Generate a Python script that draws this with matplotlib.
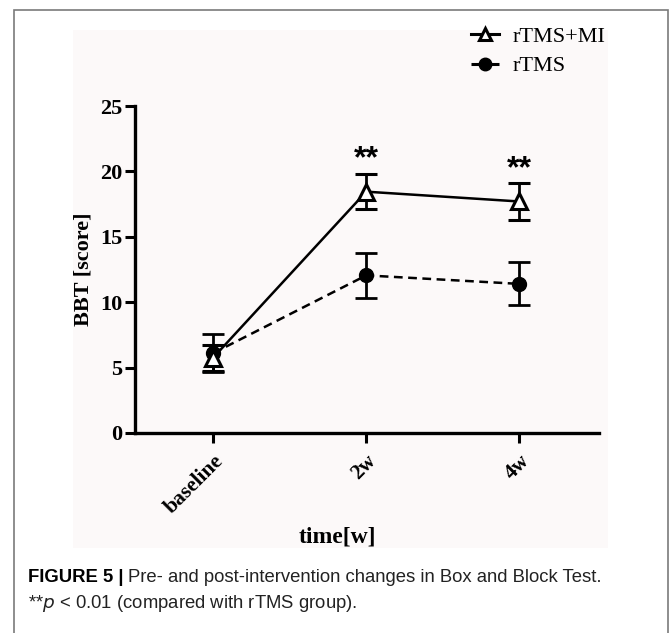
import matplotlib.pyplot as plt
from matplotlib.patches import Rectangle
from matplotlib.lines import Line2D

# data
timepoints = ["baseline", "2w", "4w"]
mi_mean = [5.75, 18.45, 17.7]
mi_err = [1.0, 1.35, 1.4]
rtms_mean = [6.1, 12.05, 11.4]
rtms_err = [1.45, 1.7, 1.65]
sig_labels = ["", "**", "**"]

W, H = 670, 633
fig = plt.figure(figsize=(W / 100, H / 100), dpi=100)
fig.patch.set_facecolor("white")

# panel background and outer frame
fig.patches.append(Rectangle((73 / W, 1 - 548 / H), (608 - 73) / W, (548 - 30) / H,
                             transform=fig.transFigure, facecolor="#fcf9f9",
                             edgecolor="none", zorder=-2))
fig.patches.append(Rectangle((14 / W, -0.01), (668 - 14) / W, 1 - 10 / H + 0.01,
                             transform=fig.transFigure, facecolor="none",
                             edgecolor="#7a7a7a", lw=1.2, zorder=-1))

ax = fig.add_axes([135 / W, 1 - 433 / H, (599 - 135) / W, (433 - 106) / H])
ax.set_facecolor("none")

serif = "Liberation Serif"
x = list(range(len(timepoints)))

ax.errorbar(x, mi_mean, yerr=mi_err, color="black", lw=1.8, ls="-",
            marker="^", ms=11, mfc="white", mec="black", mew=2.2,
            capsize=8, capthick=2, elinewidth=2, zorder=3)
ax.errorbar(x, rtms_mean, yerr=rtms_err, color="black", lw=1.8, ls=(0, (3.5, 2.2)),
            marker="o", ms=10, mfc="black", mec="black",
            capsize=8, capthick=2, elinewidth=2, zorder=2)

for xi, m, e, s in zip(x, mi_mean, mi_err, sig_labels):
    if s:
        ax.text(xi, m + e + 1.1, s, ha="center", va="center", fontsize=23,
                fontweight="bold", family="Liberation Sans")

ax.set_xlim(-0.51, 2.52)
ax.set_ylim(0, 25)
ax.set_yticks([0, 5, 10, 15, 20, 25])
ax.set_xticks(x)
ax.set_xticklabels(timepoints, rotation=45, ha="right", rotation_mode="anchor",
                   family=serif, fontweight="bold", fontsize=15.5)
for lab in ax.get_yticklabels():
    lab.set_family(serif)
    lab.set_fontweight("bold")
    lab.set_fontsize(16)

for side in ["top", "right"]:
    ax.spines[side].set_visible(False)
for side in ["left", "bottom"]:
    ax.spines[side].set_linewidth(2.4)
ax.tick_params(axis="both", width=2.2, length=7, pad=2)
ax.tick_params(axis="x", pad=6)

ax.set_ylabel("BBT [score]", family=serif, fontweight="bold", fontsize=16, labelpad=5)
fig.text(337 / W, 1 - 537 / H, "time[w]", ha="center", va="center",
         family=serif, fontweight="bold", fontsize=17)

handles = [
    Line2D([], [], color="black", lw=2.2, marker="^", ms=9, mfc="white", mew=2.2),
    Line2D([], [], color="black", lw=2.2, ls=(0, (3.5, 2.2)), marker="o", ms=9),
]
fig.legend(handles, ["rTMS+MI", "rTMS"], loc="upper left",
           bbox_to_anchor=(451 / W, 1 - 6 / H), frameon=False,
           prop={"family": serif, "size": 16}, handlelength=1.25,
           handletextpad=0.6, labelspacing=0.42)

cap_font = ["Liberation Sans"]
t1 = fig.text(28 / W, 1 - 578 / H, "FIGURE 5 |", ha="left", va="center",
              family=cap_font, fontweight="bold", fontsize=13.3)
fig.canvas.draw()
bb = t1.get_window_extent()
fig.text((bb.x1 + 4) / W, 1 - 578 / H,
         "Pre- and post-intervention changes in Box and Block Test.",
         ha="left", va="center", family=cap_font, fontsize=13.3, color="#222222")
fig.text(28 / W, 1 - 604 / H, r"**$p$ < 0.01 (compared with rTMS group).",
         ha="left", va="center", family=cap_font, fontsize=13.3, color="#222222")

fig.savefig("out.png", dpi=100)
